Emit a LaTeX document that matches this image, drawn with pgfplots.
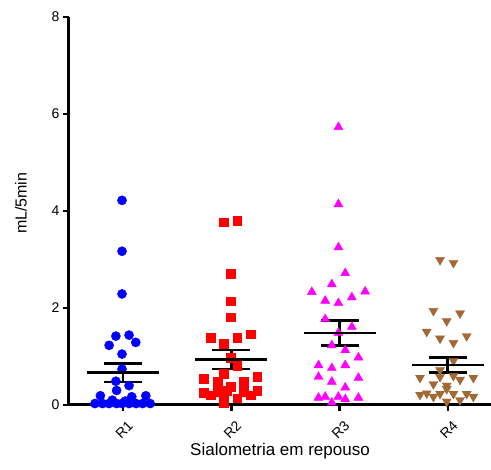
\documentclass[border=0pt]{standalone}
\usepackage{pgfplots}
\pgfplotsset{compat=1.18}
\usepackage{fontspec}
\setmainfont{Liberation Sans}
\definecolor{cblue}{RGB}{0,0,255}
\definecolor{cred}{RGB}{255,0,0}
\definecolor{cmag}{RGB}{255,0,255}
\definecolor{cbrown}{RGB}{163,105,52}
\begin{document}
\begin{tikzpicture}
\useasboundingbox (0,0) rectangle (491pt,470pt);
\begin{axis}[
  at={(69pt,65pt)}, anchor=south west,
  scale only axis, width=422pt, height=388pt,
  xmin=0.5, xmax=4.4, ymin=0, ymax=8,
  axis lines=left,
  axis line style={line width=3pt, -},
  axis on top,
  clip=false,
  xtick={1,2,3,4}, xticklabels={R1,R2,R3,R4},
  ytick={0,2,4,6,8},
  tick align=outside,
  major tick length=6pt,
  tick style={line width=2.4pt, black},
  /pgf/number format/assume math mode=true,
  tick label style={font=\fontsize{14}{16}\selectfont},
  xticklabel style={rotate=45, anchor=east, yshift=-14pt, xshift=0pt},
  ylabel={mL/5min},
  xlabel={Sialometria em repouso},
  ylabel style={at={(axis description cs:-0.114,0.52)}, anchor=center, font=\fontsize{16}{18}\selectfont},
  xlabel style={at={(axis description cs:0.5,-0.12)}, anchor=center, font=\fontsize{17}{19}\selectfont},
]
% R1
\addplot[only marks, mark=*, mark size=4.6pt, color=cblue] coordinates {
(0.99,4.22) (0.99,3.17) (0.99,2.29) (0.933,1.42) (1.055,1.44) (0.871,1.23) (1.117,1.29)
(0.99,1.05) (0.99,0.74) (0.933,0.49) (1.055,0.40) (0.79,0.19) (0.94,0.30) (1.08,0.17) (1.21,0.19)
(0.74,0.03) (0.81,0.03) (0.87,0.03) (0.94,0.03) (0.99,0.03) (1.055,0.03) (1.12,0.03) (1.18,0.03) (1.25,0.03)
(0.90,0.10) (1.02,0.08)
};
% R2
\addplot[only marks, mark=square*, mark size=4.4pt, color=cred] coordinates {
(1.933,3.77) (2.055,3.80) (1.994,2.70) (1.994,2.14) (1.994,1.81) (1.809,1.38) (2.055,1.38) (2.178,1.46)
(1.933,1.26) (1.994,0.98) (2.055,0.81) (1.933,0.65) (1.748,0.55) (2.24,0.58) (1.871,0.48) (2.117,0.48)
(1.748,0.26) (2.24,0.30) (1.871,0.27) (1.994,0.38) (2.117,0.27) (1.809,0.20) (1.933,0.13) (2.055,0.14)
(2.178,0.20) (1.933,0.04) (1.96,0.30)
};
% R3
\addplot[only marks, mark=triangle*, mark size=5.2pt, color=cmag] coordinates {
(2.99,5.73) (2.99,4.14) (2.99,3.25) (3.053,2.72) (2.929,2.49) (2.744,2.33) (3.237,2.34) (2.868,2.15)
(2.99,2.10) (3.114,2.22) (2.868,1.77) (3.114,1.61) (2.99,1.49) (2.929,1.23) (3.053,1.13) (3.175,0.98)
(2.806,0.82) (2.929,0.76) (3.053,0.82) (2.806,0.58) (2.929,0.48) (3.175,0.56) (3.053,0.36)
(2.806,0.15) (2.868,0.17) (2.99,0.17) (3.053,0.12) (3.175,0.15) (2.929,0.05)
};
% R4
\addplot[only marks, mark=triangle*, mark size=5.2pt, color=cbrown, mark options={rotate=180}] coordinates {
(3.929,2.99) (4.053,2.93) (3.868,1.94) (4.114,1.89) (3.991,1.73) (3.806,1.51) (3.929,1.37) (4.175,1.42)
(4.053,1.28) (4.053,0.91) (3.929,0.72) (3.744,0.56) (3.929,0.58) (4.053,0.60) (4.237,0.56) (4.114,0.52)
(3.868,0.43) (3.991,0.40) (3.744,0.21) (3.806,0.24) (3.868,0.17) (3.929,0.23) (3.991,0.33) (4.053,0.23)
(4.175,0.23) (4.237,0.17) (3.991,0.07) (4.114,0.10)
};
% mean +- SEM
\addplot[only marks, black, mark=-, mark size=36pt, mark options={line width=2.5pt},
  error bars/.cd, y dir=both, y explicit, error mark=|,
  error mark options={line width=2.5pt, mark size=19pt, black},
  error bar style={line width=2.5pt, black}] coordinates {
(1,0.665) +- (0,0.195)
(2,0.935) +- (0,0.195)
(3,1.485) +- (0,0.255)
(4,0.825) +- (0,0.155)
};
\end{axis}
\end{tikzpicture}
\end{document}
